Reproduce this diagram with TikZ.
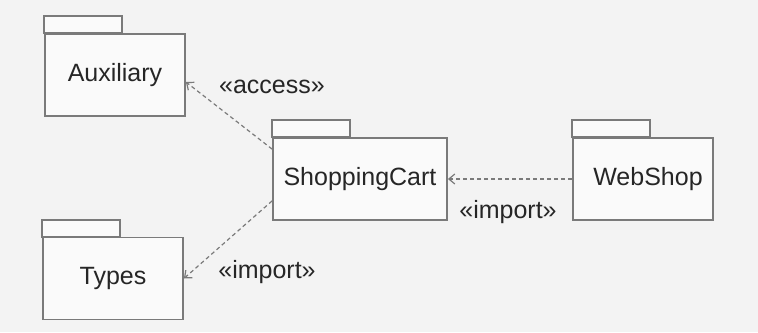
\documentclass[tikz,border=0pt]{standalone}
\usepackage{fontspec}
\setmainfont{Liberation Sans}
\usetikzlibrary{arrows.meta, positioning}
\definecolor{bgcol}{HTML}{F3F3F3}
\definecolor{linecol}{HTML}{7A7A7A}
\definecolor{txtcol}{HTML}{262626}

\begin{document}
\begin{tikzpicture}[x=0.5pt,y=-0.5pt,>={Straight Barb[length=3pt,width=5pt]},
      font=\fontsize{12.5}{14}\selectfont, text=txtcol,
      pkg/.style={draw=linecol,fill=white!60!bgcol,line width=0.9pt,minimum width=70pt,minimum height=41pt,inner sep=0pt},
      dep/.style={draw=linecol,line width=0.6pt,dash pattern=on 2pt off 1.5pt},
      tab/.style={draw=linecol,fill=white!60!bgcol,line width=0.9pt}]
      \useasboundingbox[fill=bgcol] (0,0) rectangle (758,332);
      \node[pkg]    (aux)   at (115,75)    {Auxiliary};
      \node[pkg]    (types) at (113,278.5) {Types};
      \node[pkg, minimum width=87pt] (cart) at (360,179) {ShoppingCart};
      \node[pkg]    (web)   at (643,179)   {\hspace{5pt}WebShop};
      \foreach \p in {aux, types, cart, web}
        \draw[tab] (\p.north west) rectangle ++(39pt,8.5pt);
      \path[->]
      ([yshift=-6pt]cart.north west) edge [dep] ([yshift=-3.5pt]aux.east)
      ([yshift=10pt]cart.south west) edge [dep] (types.east)
      (web.west) edge [dep] (cart.east);
      \node (accesslbl)  at (272,87)  {«access»};
      \node (importlbl1) at (267,272) {«import»};
      \node (importlbl2) at (508,212) {«import»};
    \end{tikzpicture}
\end{document}
